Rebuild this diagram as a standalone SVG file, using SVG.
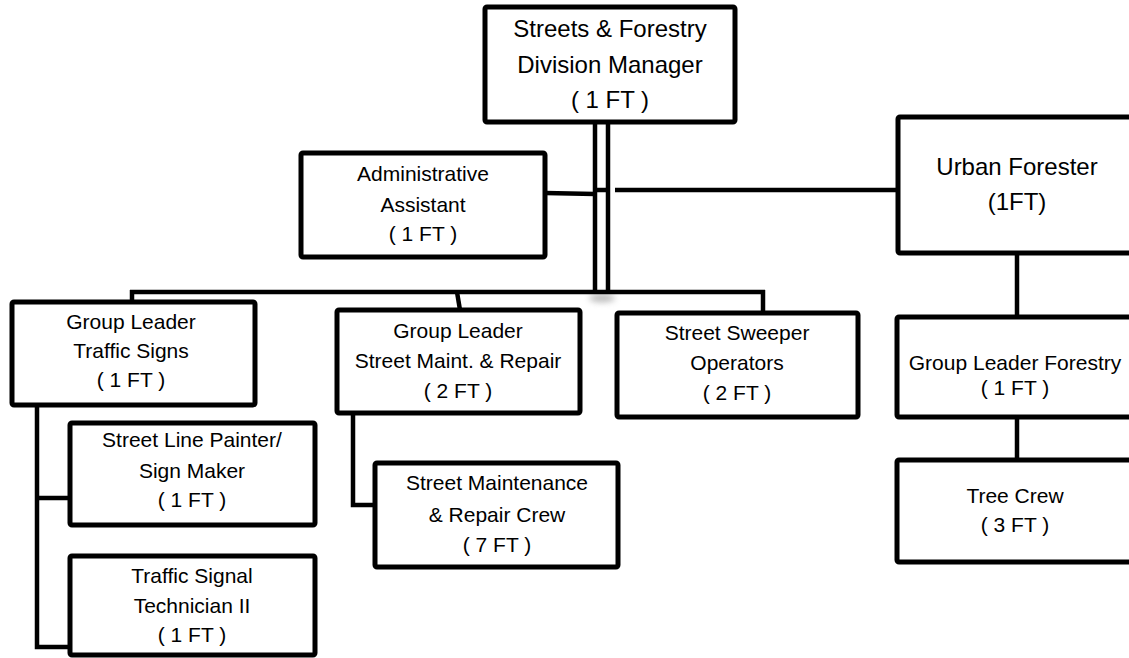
<svg xmlns="http://www.w3.org/2000/svg" width="1129" height="658" viewBox="0 0 1129 658">
  <style>
    .box { fill: #ffffff; stroke: #000000; stroke-width: 5; }
    .link { fill: none; stroke: #000000; stroke-width: 4.5; stroke-linecap: butt; }
    text { font-family: "Liberation Sans", Arial, sans-serif; fill: #000000; text-anchor: middle; }
    .t { font-size: 21px; }
    .big { font-size: 24px; }
  </style>
  <defs>
    <filter id="soft" x="-50%" y="-100%" width="200%" height="300%">
      <feGaussianBlur stdDeviation="3"/>
    </filter>
  </defs>
  <rect width="1129" height="658" fill="#ffffff"/>

  <!-- soft shadow where the trunk meets the distribution bar -->
  <ellipse cx="602" cy="298" rx="13" ry="4" fill="#888888" opacity="0.6" filter="url(#soft)"/>

  <!-- reporting lines -->
  <g id="connectors">
    <!-- double trunk from the division manager -->
    <line class="link" x1="595" y1="122" x2="595" y2="294"/>
    <line class="link" x1="608" y1="122" x2="608" y2="294"/>
    <!-- administrative assistant branch -->
    <line class="link" x1="545" y1="193" x2="595" y2="194"/>
    <line class="link" x1="597" y1="190" x2="609" y2="190"/>
    <!-- urban forester branch -->
    <line class="link" x1="615" y1="190" x2="898" y2="190"/>
    <!-- main distribution bar -->
    <line class="link" x1="130" y1="292" x2="765" y2="292"/>
    <line class="link" x1="132" y1="290" x2="132" y2="302"/>
    <line class="link" x1="457" y1="292" x2="460" y2="310"/>
    <line class="link" x1="763" y1="290" x2="763" y2="313"/>
    <!-- traffic signs team -->
    <polyline class="link" points="37,405 37,647 70,647"/>
    <line class="link" x1="37" y1="498" x2="70" y2="498"/>
    <!-- street maintenance crew -->
    <polyline class="link" points="353,413 353,505 375,505"/>
    <!-- forestry chain -->
    <line class="link" x1="1017" y1="253" x2="1017" y2="317"/>
    <line class="link" x1="1017" y1="417" x2="1017" y2="460"/>
  </g>

  <g id="division-manager">
    <rect class="box" x="485" y="7" width="250" height="115" rx="2"/>
    <text class="big" x="610" y="37">Streets &amp; Forestry</text>
    <text class="big" x="610" y="73">Division Manager</text>
    <text class="big" x="610" y="108">( 1 FT )</text>
  </g>

  <g id="admin-assistant">
    <rect class="box" x="301" y="153" width="244" height="104" rx="2"/>
    <text class="t" x="423" y="181">Administrative</text>
    <text class="t" x="423" y="212">Assistant</text>
    <text class="t" x="423" y="241">( 1 FT )</text>
  </g>

  <g id="urban-forester">
    <rect class="box" x="898" y="117" width="240" height="136" rx="2"/>
    <text class="big" x="1017" y="175">Urban Forester</text>
    <text class="big" x="1017" y="210">(1FT)</text>
  </g>

  <g id="gl-traffic-signs">
    <rect class="box" x="12" y="302" width="243" height="103" rx="2"/>
    <text class="t" x="131" y="329">Group Leader</text>
    <text class="t" x="131" y="358">Traffic Signs</text>
    <text class="t" x="131" y="387">( 1 FT )</text>
  </g>

  <g id="line-painter">
    <rect class="box" x="70" y="423" width="245" height="102" rx="2"/>
    <text class="t" x="192" y="447">Street Line Painter/</text>
    <text class="t" x="192" y="478">Sign Maker</text>
    <text class="t" x="192" y="507">( 1 FT )</text>
  </g>

  <g id="signal-technician">
    <rect class="box" x="70" y="556" width="245" height="99" rx="2"/>
    <text class="t" x="192" y="583">Traffic Signal</text>
    <text class="t" x="192" y="613">Technician II</text>
    <text class="t" x="192" y="642">( 1 FT )</text>
  </g>

  <g id="gl-street-maint">
    <rect class="box" x="337" y="310" width="243" height="103" rx="2"/>
    <text class="t" x="458" y="338">Group Leader</text>
    <text class="t" x="458" y="368">Street Maint. &amp; Repair</text>
    <text class="t" x="458" y="398">( 2 FT )</text>
  </g>

  <g id="street-maint-crew">
    <rect class="box" x="375" y="463" width="243" height="104" rx="2"/>
    <text class="t" x="497" y="490">Street Maintenance</text>
    <text class="t" x="497" y="522">&amp; Repair Crew</text>
    <text class="t" x="497" y="552">( 7 FT )</text>
  </g>

  <g id="sweeper-operators">
    <rect class="box" x="617" y="313" width="241" height="104" rx="2"/>
    <text class="t" x="737" y="340">Street Sweeper</text>
    <text class="t" x="737" y="370">Operators</text>
    <text class="t" x="737" y="400">( 2 FT )</text>
  </g>

  <g id="gl-forestry">
    <rect class="box" x="897" y="317" width="240" height="100" rx="2"/>
    <text class="t" x="1015" y="370">Group Leader Forestry</text>
    <text class="t" x="1015" y="395">( 1 FT )</text>
  </g>

  <g id="tree-crew">
    <rect class="box" x="897" y="460" width="240" height="102" rx="2"/>
    <text class="t" x="1015" y="503">Tree Crew</text>
    <text class="t" x="1015" y="532">( 3 FT )</text>
  </g>
</svg>
